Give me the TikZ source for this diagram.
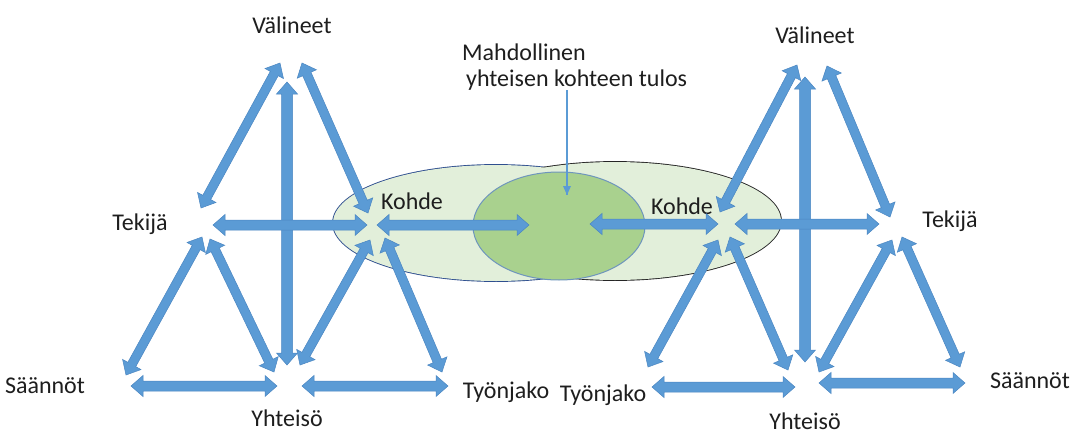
\documentclass[tikz,border=0pt]{standalone}
\usepackage{fontspec}
\setmainfont{Carlito}
\usetikzlibrary{calc}
\definecolor{arrowblue}{HTML}{5B9BD5}
\definecolor{arrowedge}{HTML}{4A86C2}
\definecolor{palegreen}{HTML}{E2EFDA}
\definecolor{midgreen}{HTML}{A9D18E}
\definecolor{midedge}{HTML}{6E95BD}
\definecolor{leftedge}{HTML}{2F4F8F}
\definecolor{rightedge}{HTML}{262626}
\definecolor{txt}{HTML}{1E1E1E}
\newcommand\blockarr[3][4.5pt]{%
 \filldraw[blockstyle] (#2)
  -- ($($(#2)!12pt!(#3)$)!10.5pt!90:(#3)$)
  -- ($($(#2)!12pt!(#3)$)!#1!90:(#3)$)
  -- ($($(#3)!12pt!(#2)$)!#1!-90:(#2)$)
  -- ($($(#3)!12pt!(#2)$)!10.5pt!-90:(#2)$)
  -- (#3)
  -- ($($(#3)!12pt!(#2)$)!10.5pt!90:(#2)$)
  -- ($($(#3)!12pt!(#2)$)!#1!90:(#2)$)
  -- ($($(#2)!12pt!(#3)$)!#1!-90:(#3)$)
  -- ($($(#2)!12pt!(#3)$)!10.5pt!-90:(#3)$)
  -- cycle;}
\begin{document}
\begin{tikzpicture}[x=1pt,y=-1pt,
  lbl/.style={font=\fontsize{24}{28}\selectfont, text=txt, inner sep=0pt},
  blockstyle/.style={fill=arrowblue, draw=arrowedge, line width=0.5pt, line join=miter},
  pointer/.style={draw=arrowblue, line width=1.1pt}]
\useasboundingbox (0,0) rectangle (1080,434);
\fill[white] (0,0) rectangle (1080,434);

% ellipses: outlines first, then fills on top so only the outer outline of the union shows
\draw[leftedge, line width=1.8pt] (496,223) ellipse [x radius=163pt, y radius=58pt];
\draw[rightedge, line width=1.8pt] (615,221) ellipse [x radius=166pt, y radius=59pt];
\fill[palegreen] (496,223) ellipse [x radius=163pt, y radius=58pt];
\fill[palegreen] (615,221) ellipse [x radius=166pt, y radius=59pt];
\filldraw[fill=midgreen, draw=midedge, line width=1pt] (559,226) ellipse [x radius=86pt, y radius=54pt];

% labels
\node[lbl] (LV) at (292,25) {Välineet};
\node[lbl] (LT) at (140,224) {Tekijä};
\node[lbl] (LK) at (412,201) {Kohde};
\node[lbl] (LS) at (45,386) {Säännöt};
\node[lbl] (LY) at (287,418) {Yhteisö};
\node[lbl] (LW) at (506,392) {Työnjako};
\node[lbl] (RV) at (815,35) {Välineet};
\node[lbl] (RT) at (950,221) {Tekijä};
\node[lbl] (RK) at (682,206) {Kohde};
\node[lbl] (RS) at (1030,381) {Säännöt};
\node[lbl] (RY) at (805,421) {Yhteisö};
\node[lbl] (RW) at (603,395) {Työnjako};
\node[lbl, anchor=west] (M1) at (462,52) {Mahdollinen};
\node[lbl, anchor=west] (M2) at (466,80) {yhteisen kohteen tulos};

% pointer from the text into the shared object
\coordinate (ptr) at (567,195);
\draw[pointer] (M2.south -| ptr) -- (ptr);
\fill[arrowblue] (ptr) -- ++(-4,-9) -- ++(8,0) -- cycle;

% left activity system
\coordinate (LVTa) at (280,63);  \coordinate (LVTb) at (201,208);
\coordinate (LVKa) at (302,63);  \coordinate (LVKb) at (368,213);
\coordinate (LVYa) at (287,82);  \coordinate (LVYb) at (287,365);
\coordinate (LTKa) at (213,225); \coordinate (LTKb) at (367,225);
\coordinate (LTSa) at (202,237); \coordinate (LTSb) at (126,375);
\coordinate (LTYa) at (210,239); \coordinate (LTYb) at (274,372);
\coordinate (LKYa) at (370,240); \coordinate (LKYb) at (300,365);
\coordinate (LKWa) at (385,238); \coordinate (LKWb) at (442,372);
\coordinate (LSYa) at (131,386); \coordinate (LSYb) at (277,386);
\coordinate (LYWa) at (302,386); \coordinate (LYWb) at (448,386);
\coordinate (LKMa) at (377,225); \coordinate (LKMb) at (529,225);

\blockarr{LVTa}{LVTb}
\blockarr{LVKa}{LVKb}
\blockarr[5.5pt]{LVYa}{LVYb}
\blockarr[5pt]{LTKa}{LTKb}
\blockarr{LTSa}{LTSb}
\blockarr{LTYa}{LTYb}
\blockarr{LKYa}{LKYb}
\blockarr{LKWa}{LKWb}
\blockarr[5pt]{LSYa}{LSYb}
\blockarr[5pt]{LYWa}{LYWb}
\blockarr[5pt]{LKMa}{LKMb}

% right activity system
\coordinate (RVKa) at (797,65);  \coordinate (RVKb) at (720,212);
\coordinate (RVTa) at (827,66);  \coordinate (RVTb) at (890,217);
\coordinate (RVYa) at (805,77);  \coordinate (RVYb) at (805,362);
\coordinate (RKTa) at (735,224); \coordinate (RKTb) at (879,224);
\coordinate (RKWa) at (718,240); \coordinate (RKWb) at (648,367);
\coordinate (RKYa) at (730,237); \coordinate (RKYb) at (788,370);
\coordinate (RTYa) at (892,240); \coordinate (RTYb) at (819,372);
\coordinate (RTSa) at (902,237); \coordinate (RTSb) at (960,367);
\coordinate (RWYa) at (652,387); \coordinate (RWYb) at (795,387);
\coordinate (RYSa) at (819,383); \coordinate (RYSb) at (965,383);
\coordinate (RMKa) at (590,224); \coordinate (RMKb) at (718,224);

\blockarr{RVKa}{RVKb}
\blockarr{RVTa}{RVTb}
\blockarr[5.5pt]{RVYa}{RVYb}
\blockarr[5pt]{RKTa}{RKTb}
\blockarr{RKWa}{RKWb}
\blockarr{RKYa}{RKYb}
\blockarr{RTYa}{RTYb}
\blockarr{RTSa}{RTSb}
\blockarr[5pt]{RWYa}{RWYb}
\blockarr[5pt]{RYSa}{RYSb}
\blockarr[5pt]{RMKa}{RMKb}
\end{tikzpicture}
\end{document}
